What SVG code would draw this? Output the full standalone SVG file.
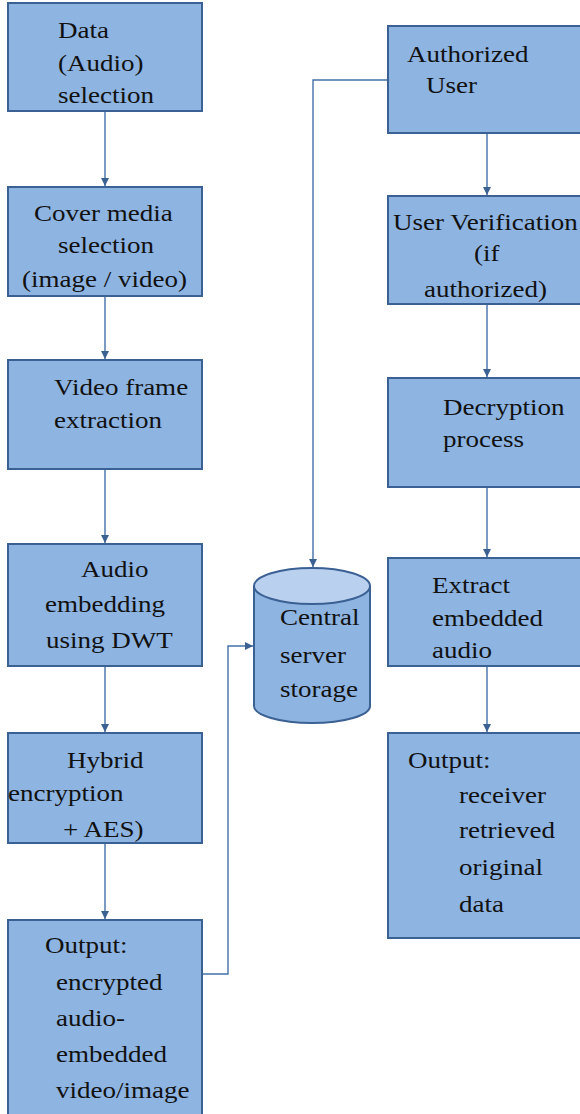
<svg xmlns="http://www.w3.org/2000/svg" width="580" height="1114" viewBox="0 0 580 1114">
  <style>
    .box { fill: #8EB4E2; stroke: #3B6093; stroke-width: 2; }
    .cyl { fill: #8EB4E2; stroke: #3B6093; stroke-width: 2; }
    .cyltop { fill: #B9D0EE; stroke: #3B6093; stroke-width: 2; }
    text {
      font-family: "Liberation Serif", "Times New Roman", "DejaVu Serif", serif;
      font-size: 23.5px; fill: #111111;
      transform: scaleX(1.15); transform-box: fill-box; transform-origin: left center;
    }
    .link { fill: none; stroke: #4470A8; stroke-width: 1.4; }
  </style>
  <defs>
    <marker id="arr" viewBox="0 0 10 10" refX="10" refY="5" markerWidth="8" markerHeight="10" markerUnits="userSpaceOnUse" orient="auto">
      <path d="M0,0 L10,5 L0,10 Z" fill="#3B6093"/>
    </marker>
  </defs>

  <rect width="580" height="1114" fill="#FFFFFF"/>

  <!-- connectors -->
  <g id="connectors">
    <line class="link" x1="105" y1="111" x2="105" y2="186" marker-end="url(#arr)"/>
    <line class="link" x1="105" y1="296" x2="105" y2="359" marker-end="url(#arr)"/>
    <line class="link" x1="105" y1="469" x2="105" y2="543" marker-end="url(#arr)"/>
    <line class="link" x1="105" y1="666" x2="105" y2="732" marker-end="url(#arr)"/>
    <line class="link" x1="105" y1="843" x2="105" y2="919" marker-end="url(#arr)"/>
    <polyline class="link" points="202,974 228,974 228,646 253,646" marker-end="url(#arr)"/>
    <polyline class="link" points="388,80 313,80 313,567" marker-end="url(#arr)"/>
    <line class="link" x1="487" y1="133" x2="487" y2="195" marker-end="url(#arr)"/>
    <line class="link" x1="487" y1="304" x2="487" y2="377" marker-end="url(#arr)"/>
    <line class="link" x1="487" y1="487" x2="487" y2="557" marker-end="url(#arr)"/>
    <line class="link" x1="487" y1="666" x2="487" y2="732" marker-end="url(#arr)"/>
  </g>

  <!-- sender side -->
  <g id="data-selection">
    <rect class="box" x="8" y="3" width="194" height="108"/>
    <text x="58" y="38">Data</text>
    <text x="58" y="71">(Audio)</text>
    <text x="58" y="103">selection</text>
  </g>

  <g id="cover-media">
    <rect class="box" x="8" y="187" width="194" height="109"/>
    <text x="34" y="221">Cover media</text>
    <text x="58" y="253">selection</text>
    <text x="22" y="287">(image / video)</text>
  </g>

  <g id="frame-extraction">
    <rect class="box" x="8" y="360" width="194" height="109"/>
    <text x="54" y="395">Video frame</text>
    <text x="54" y="428">extraction</text>
  </g>

  <g id="audio-embedding">
    <rect class="box" x="8" y="544" width="194" height="122"/>
    <text x="81" y="577">Audio</text>
    <text x="45" y="612">embedding</text>
    <text x="46" y="648">using DWT</text>
  </g>

  <g id="hybrid-encryption">
    <rect class="box" x="8" y="733" width="194" height="110"/>
    <text x="67" y="768">Hybrid</text>
    <text x="8" y="801">encryption</text>
    <text x="63" y="837">+ AES)</text>
  </g>

  <g id="encrypted-output">
    <rect class="box" x="8" y="920" width="194" height="200"/>
    <text x="45" y="953">Output:</text>
    <text x="56" y="990">encrypted</text>
    <text x="56" y="1026">audio-</text>
    <text x="56" y="1062">embedded</text>
    <text x="56" y="1098">video/image</text>
  </g>

  <!-- storage -->
  <g id="central-storage">
    <path class="cyl" d="M254,586 L254,706 A58,17 0 0 0 370,706 L370,586"/>
    <ellipse class="cyltop" cx="312" cy="586" rx="58" ry="18"/>
    <text x="280" y="625">Central</text>
    <text x="280" y="663">server</text>
    <text x="280" y="697">storage</text>
  </g>

  <!-- receiver side -->
  <g id="authorized-user">
    <rect class="box" x="388" y="26" width="200" height="107"/>
    <text x="407" y="62">Authorized</text>
    <text x="426" y="93">User</text>
  </g>

  <g id="user-verification">
    <rect class="box" x="388" y="196" width="200" height="108"/>
    <text x="393" y="230">User Verification</text>
    <text x="474" y="261">(if</text>
    <text x="424" y="297">authorized)</text>
  </g>

  <g id="decryption">
    <rect class="box" x="388" y="378" width="200" height="109"/>
    <text x="443" y="415">Decryption</text>
    <text x="443" y="447">process</text>
  </g>

  <g id="extract-audio">
    <rect class="box" x="388" y="558" width="200" height="108"/>
    <text x="432" y="593">Extract</text>
    <text x="432" y="626">embedded</text>
    <text x="432" y="658">audio</text>
  </g>

  <g id="receiver-output">
    <rect class="box" x="388" y="733" width="200" height="205"/>
    <text x="408" y="768">Output:</text>
    <text x="459" y="803">receiver</text>
    <text x="459" y="838">retrieved</text>
    <text x="459" y="875">original</text>
    <text x="459" y="912">data</text>
  </g>
</svg>
